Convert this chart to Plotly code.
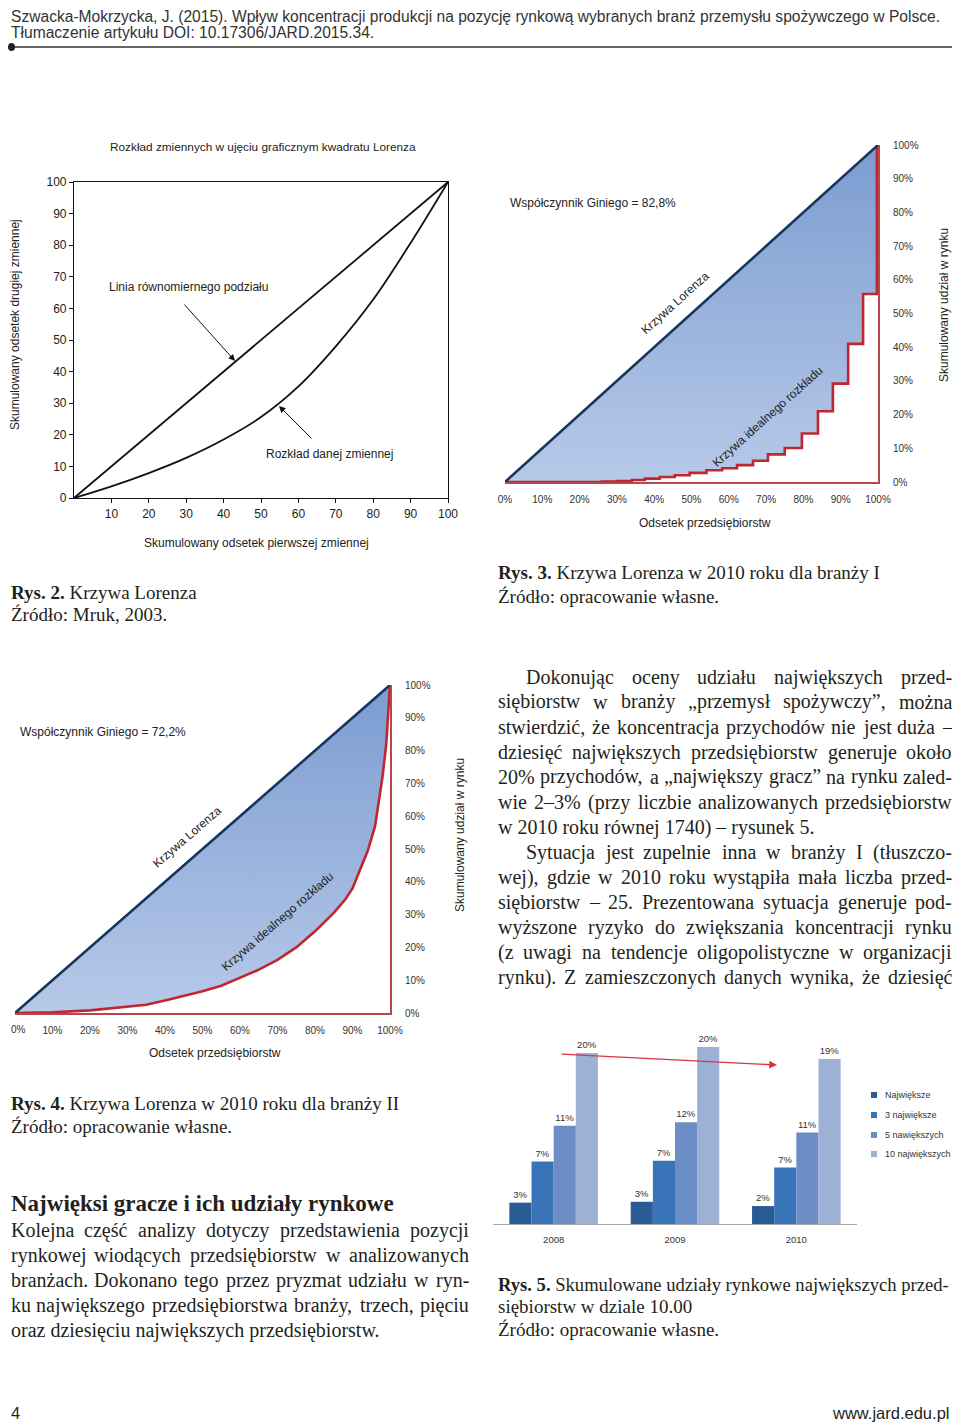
import plotly.graph_objects as go

W, H = 960, 1427
OFF = 8  # the page body margin offsets the figure by 8 px; positions below are page pixels
XMAX = 951  # right limit of the visible page area
def fx(p): return (p - OFF) / W
def fy(p): return 1 - (p - OFF) / H

SANS = "Liberation Sans, Arial, sans-serif"
SERIF = "Liberation Serif, Times New Roman, serif"
INK = "#231f20"
RED = "#c0262d"
RED_EDGE = "#b8464c"
NAVY = "#17365d"

# ---------------- data ----------------
# Rys. 2  (Lorenz square)
r2_xticks = [10, 20, 30, 40, 50, 60, 70, 80, 90, 100]
r2_yticks = [0, 10, 20, 30, 40, 50, 60, 70, 80, 90, 100]
r2_equal_x = [0, 100]
r2_equal_y = [0, 100]
r2_curve_x = [0, 10, 20, 30, 40, 50, 60, 70, 80, 90, 100]
r2_curve_y = [0, 3.7, 7.9, 12.7, 18.5, 25.6, 35.3, 48.0, 62.8, 80.7, 100]

# Rys. 3  (branch I, step curve)
pct_ticks = [0, 10, 20, 30, 40, 50, 60, 70, 80, 90, 100]
pct_labels = ["0%", "10%", "20%", "30%", "40%", "50%", "60%", "70%", "80%", "90%", "100%"]
r3_diag_x = [0, 100]
r3_diag_y = [0, 100]
r3_step_x = [0, 26, 30, 34, 37.5, 41.5, 45.5, 49.5, 54, 58.2, 62.2, 66.5, 70.5, 75, 79.6, 83.9, 87.9, 92, 96, 99.7, 100]
r3_step_y = [0, 0.1, 0.3, 0.6, 1.0, 1.5, 2.0, 2.7, 3.5, 4.1, 5.0, 6.3, 8.2, 10.1, 14.4, 21.0, 29.2, 41.0, 55.8, 100, 100]

# Rys. 4  (branch II, smooth curve)
r4_diag_x = [0, 100]
r4_diag_y = [0, 100]
r4_curve_x = [0, 10, 20, 30, 35, 40, 50, 55, 60, 65, 70, 75, 80, 85, 88, 90, 92, 94, 96, 97, 98, 99, 100]
r4_curve_y = [0, 0.2, 0.8, 1.8, 2.5, 3.8, 6.6, 8.3, 10.7, 13.2, 16.2, 20.0, 24.9, 30.5, 34.5, 38.0, 43.7, 49.2, 56.9, 64.0, 72.0, 82.0, 100]

# Rys. 5  (market shares)
years = ["2008", "2009", "2010"]
series_names = ["Największe", "3 największe", "5 nawiększych", "10 największych"]
share_top1 = [2.5, 2.6, 2.1]
share_top3 = [7.3, 7.4, 6.6]
share_top5 = [11.5, 11.9, 10.7]
share_top10 = [20.0, 20.7, 19.3]
label_top1 = ["3%", "3%", "2%"]
label_top3 = ["7%", "7%", "7%"]
label_top5 = ["11%", "12%", "11%"]
label_top10 = ["20%", "20%", "19%"]
series_colors = ["#2a5b94", "#3a74b8", "#6b8ec6", "#9db1d6"]

# ---------------- text ----------------
para_right = [
    ("Dokonując oceny udziału największych przed-", True, True),
    ("siębiorstw w branży „przemysł spożywczy”, można", False, True),
    ("stwierdzić, że koncentracja przychodów nie jest duża –", False, True),
    ("dziesięć największych przedsiębiorstw generuje około", False, True),
    ("20% przychodów, a „największy gracz” na rynku zaled-", False, True),
    ("wie 2–3% (przy liczbie analizowanych przedsiębiorstw", False, True),
    ("w 2010 roku równej 1740) – rysunek 5.", False, False),
    ("Sytuacja jest zupelnie inna w branży I (tłuszczo-", True, True),
    ("wej), gdzie w 2010 roku wystąpiła mała liczba przed-", False, True),
    ("siębiorstw – 25. Prezentowana sytuacja generuje pod-", False, True),
    ("wyższone ryzyko do zwiększania koncentracji rynku", False, True),
    ("(z uwagi na tendencje oligopolistyczne w organizacji", False, True),
    ("rynku). Z zamieszczonych danych wynika, że dziesięć", False, True),
]
para_left = [
    ("Kolejna część analizy dotyczy przedstawienia pozycji", True),
    ("rynkowej wiodących przedsiębiorstw w analizowanych", True),
    ("branżach. Dokonano tego przez pryzmat udziału w ryn-", True),
    ("ku największego przedsiębiorstwa branży, trzech, pięciu", True),
    ("oraz dziesięciu największych przedsiębiorstw.", False),
]

# Times New Roman advance widths (1/1000 em)
TW = {' ': 250, ',': 250, '.': 250, '-': 333, '–': 500, '(': 333, ')': 333, '%': 833,
      '„': 444, '”': 444, ':': 278, ';': 278,
      'A': 722, 'B': 667, 'C': 667, 'D': 722, 'E': 611, 'F': 556, 'G': 722, 'H': 722,
      'I': 333, 'J': 389, 'K': 722, 'L': 611, 'M': 889, 'N': 722, 'O': 722, 'P': 556,
      'R': 667, 'S': 556, 'T': 611, 'U': 722, 'W': 944, 'Z': 611, 'Ź': 611,
      'a': 444, 'b': 500, 'c': 444, 'd': 500, 'e': 444, 'f': 333, 'g': 500, 'h': 500,
      'i': 278, 'j': 278, 'k': 500, 'l': 278, 'm': 778, 'n': 500, 'o': 500, 'p': 500,
      'q': 500, 'r': 333, 's': 389, 't': 278, 'u': 500, 'v': 500, 'w': 722, 'x': 500,
      'y': 500, 'z': 444, 'ł': 278, 'ą': 444, 'ę': 444, 'ć': 444, 'ń': 500, 'ó': 500,
      'ś': 389, 'ź': 444, 'ż': 444}

def tw(s, size):
    return sum(TW.get(ch, 500) for ch in s) / 1000.0 * size

annotations = []

def ann(text, x, y, size, family=SANS, color=INK, xanchor="left", angle=0, yanchor="middle"):
    if xanchor == "left":
        x = max(x, OFF + 1)
    annotations.append(dict(text=text, x=fx(x), y=fy(y), xref="paper", yref="paper",
                            showarrow=False, xanchor=xanchor, yanchor=yanchor,
                            textangle=angle, font=dict(family=family, size=size, color=color)))

def justified(line, x0, x1, y, size, justify):
    words = line.split(" ")
    if not justify or len(words) < 2:
        ann(line, x0 - 1, y, size, SERIF)
        return
    total = sum(tw(w, size) for w in words)
    gap = (x1 - x0 - total) / (len(words) - 1)
    gap = max(gap, tw(" ", size))
    x = x0
    for w in words:
        ann(w, x - 1, y, size, SERIF)
        x += tw(w, size) + gap

fig = go.Figure()

# ---- Rys. 2 ----
fig.add_trace(go.Scatter(x=r2_equal_x, y=r2_equal_y, mode="lines", line=dict(color="#111", width=1.8),
                         xaxis="x", yaxis="y", hoverinfo="skip", showlegend=False))
fig.add_trace(go.Scatter(x=r2_curve_x, y=r2_curve_y, mode="lines",
                         line=dict(color="#111", width=1.8, shape="spline", smoothing=1.0),
                         xaxis="x", yaxis="y", hoverinfo="skip", showlegend=False))

FILL = [[0, "#b7c9e8"], [1, "#7b9cd1"]]

def steps(xs, ys):
    ox, oy = [xs[0]], [ys[0]]
    for i in range(1, len(xs)):
        ox += [xs[i], xs[i]]
        oy += [ys[i - 1], ys[i]]
    return ox, oy

# ---- Rys. 3 ----
sx, sy = steps(r3_step_x, r3_step_y)
fig.add_trace(go.Scatter(x=r3_diag_x + sx[::-1], y=r3_diag_y + sy[::-1], fill="toself", mode="none",
                         fillgradient=dict(type="vertical", colorscale=FILL),
                         xaxis="x2", yaxis="y2", hoverinfo="skip", showlegend=False))
fig.add_trace(go.Scatter(x=r3_step_x, y=r3_step_y, mode="lines", line=dict(color=RED, width=2.6, shape="hv"),
                         xaxis="x2", yaxis="y2", hoverinfo="skip", showlegend=False, cliponaxis=False))
fig.add_trace(go.Scatter(x=r3_diag_x, y=r3_diag_y, mode="lines", line=dict(color=NAVY, width=2.6),
                         xaxis="x2", yaxis="y2", hoverinfo="skip", showlegend=False, cliponaxis=False))

# ---- Rys. 4 ----
fig.add_trace(go.Scatter(x=r4_diag_x + r4_curve_x[::-1], y=r4_diag_y + r4_curve_y[::-1], fill="toself", mode="none",
                         fillgradient=dict(type="vertical", colorscale=FILL),
                         xaxis="x3", yaxis="y3", hoverinfo="skip", showlegend=False))
fig.add_trace(go.Scatter(x=r4_curve_x, y=r4_curve_y, mode="lines", line=dict(color=RED, width=2.6),
                         xaxis="x3", yaxis="y3", hoverinfo="skip", showlegend=False, cliponaxis=False))
fig.add_trace(go.Scatter(x=r4_diag_x, y=r4_diag_y, mode="lines", line=dict(color=NAVY, width=2.6),
                         xaxis="x3", yaxis="y3", hoverinfo="skip", showlegend=False, cliponaxis=False))

# ---- Rys. 5 ----
for name, vals, labs, col in zip(series_names, [share_top1, share_top3, share_top5, share_top10],
                                 [label_top1, label_top3, label_top5, label_top10], series_colors):
    fig.add_trace(go.Bar(x=years, y=vals, name=name, marker=dict(color=col, line=dict(width=0)),
                         text=labs, textposition="outside", textfont=dict(family=SANS, size=9.5, color="#333"),
                         cliponaxis=False, xaxis="x4", yaxis="y4", showlegend=False, hoverinfo="skip"))

# ---------------- annotations ----------------
# header / footer
ann("Szwacka-Mokrzycka, J. (2015). Wpływ koncentracji produkcji na pozycję rynkową wybranych branż przemysłu spożywczego w Polsce.",
    9, 16, 15.6, SANS, "#333")
ann("Tłumaczenie artykułu DOI: 10.17306/JARD.2015.34.", 9, 32, 15.6, SANS, "#333")
ann("4", 9, 1413, 16.5, SANS, INK)
ann("www.jard.edu.pl", XMAX, 1413, 16.5, SANS, INK, xanchor="right")

# Rys. 2 texts
ann("Rozkład zmiennych w ujęciu graficznym kwadratu Lorenza", 263, 147, 11.8, SANS, "#222", xanchor="center")
ann("Skumulowany odsetek drugiej zmiennej", 15, 325, 12, SANS, "#222", xanchor="center", angle=-90)
ann("Skumulowany odsetek pierwszej zmiennej", 256, 543, 12, SANS, "#222", xanchor="center")
ann("Linia równomiernego podziału", 107, 287, 12, SANS, "#222")
ann("Rozkład danej zmiennej", 264, 454, 12, SANS, "#222")
annotations.append(dict(x=fx(235), y=fy(361), xref="paper", yref="paper", text="", showarrow=True,
                        ax=-52, ay=-58, arrowhead=2, arrowsize=1.3, arrowwidth=1, arrowcolor="#111"))
annotations.append(dict(x=fx(279), y=fy(406), xref="paper", yref="paper", text="", showarrow=True,
                        ax=34, ay=34, arrowhead=2, arrowsize=1.3, arrowwidth=1, arrowcolor="#111"))

# Rys. 3 texts
ann("Współczynnik Giniego = 82,8%", 508, 203, 12, SANS, "#222")
ann("Krzywa Lorenza", 675, 303, 12, SANS, "#222", xanchor="center", angle=-42)
ann("Krzywa idealnego rozkładu", 767, 417, 12, SANS, "#222", xanchor="center", angle=-42)
ann("Odsetek przedsiębiorstw", 705, 523, 12, SANS, "#222", xanchor="center")
ann("Skumulowany udział w rynku", 944, 305, 12, SANS, "#222", xanchor="center", angle=-90)

# Rys. 4 texts
ann("Współczynnik Giniego = 72,2%", 18, 732, 12, SANS, "#222")
ann("Krzywa Lorenza", 187, 837, 12, SANS, "#222", xanchor="center", angle=-41)
ann("Krzywa idealnego rozkładu", 277, 922, 12, SANS, "#222", xanchor="center", angle=-41)
ann("Odsetek przedsiębiorstw", 215, 1053, 12, SANS, "#222", xanchor="center")
ann("Skumulowany udział w rynku", 460, 835, 12, SANS, "#222", xanchor="center", angle=-90)
# first x tick label of Rys. 4 sits at the page edge, drawn as text so that it is not dropped
ann(pct_labels[0], 9, 1029, 10, SANS, "#333")

# Rys. 5 legend + arrow
legend_rows = [1095, 1115, 1135, 1154]
shapes = []
for name, col, yy in zip(series_names, series_colors, legend_rows):
    shapes.append(dict(type="rect", xref="paper", yref="paper", x0=fx(871), x1=fx(877),
                       y0=fy(yy + 3), y1=fy(yy - 3), fillcolor=col, line=dict(width=0)))
    ann(name, 883, yy, 9, SANS, "#333")
annotations.append(dict(x=fx(777), y=fy(1065), xref="paper", yref="paper", text="", showarrow=True,
                        ax=-217, ay=-11, arrowhead=2, arrowsize=1.2, arrowwidth=1.3, arrowcolor="#d9363e"))

# captions
ann("<b>Rys. 2.</b> Krzywa Lorenza", 0, 592, 19, SERIF)
ann("Źródło: Mruk, 2003.", 0, 615, 19, SERIF)
ann("<b>Rys. 3.</b> Krzywa Lorenza w 2010 roku dla branży I", 496, 573, 19, SERIF)
ann("Źródło: opracowanie własne.", 496, 596, 19, SERIF)
ann("<b>Rys. 4.</b> Krzywa Lorenza w 2010 roku dla branży II", 5, 1103, 19, SERIF)
ann("Źródło: opracowanie własne.", 5, 1126, 19, SERIF)
ann("<b>Rys. 5.</b> Skumulowane udziały rynkowe największych przed-", 496, 1284, 18.6, SERIF)
ann("siębiorstw w dziale 10.00", 496, 1306, 19, SERIF)
ann("Źródło: opracowanie własne.", 496, 1329, 19, SERIF)

# body text
for i, (line, indent, just) in enumerate(para_right):
    justified(line, 525 if indent else 497, XMAX, 677 + 25 * i, 20, just)
ann("<b>Najwięksi gracze i ich udziały rynkowe</b>", 6, 1203, 23, SERIF)
for i, (line, just) in enumerate(para_left):
    justified(line, 9, 468, 1230 + 25 * i, 20, just)

# header rule
shapes.append(dict(type="line", xref="paper", yref="paper", x0=fx(9), x1=fx(960), y0=fy(47), y1=fy(47),
                   line=dict(color="#333", width=1.5)))
shapes.append(dict(type="circle", xref="paper", yref="paper", x0=fx(8), x1=fx(15), y0=fy(51), y1=fy(43),
                   fillcolor="#222", line=dict(width=0)))

tick_narrow = dict(family=SANS, size=10, color="#333")
common = dict(automargin=False, showgrid=False, zeroline=False)
fig.update_layout(
    template="none",
    width=W, height=H, margin=dict(l=0, r=0, t=0, b=0, pad=0, autoexpand=False),
    paper_bgcolor="white", plot_bgcolor="rgba(0,0,0,0)",
    barmode="group", bargap=0.27, bargroupgap=0,
    showlegend=False,
    xaxis=dict(domain=[fx(74), fx(448)], range=[0, 100], anchor="y", showline=True, mirror=True,
               linecolor="#111", linewidth=1.2, ticks="outside", ticklen=4, tickcolor="#111",
               tickvals=r2_xticks, tickfont=dict(family=SANS, size=12, color="#222"), **common),
    yaxis=dict(domain=[fy(498), fy(182)], range=[0, 100], anchor="x", showline=True, mirror=True,
               linecolor="#111", linewidth=1.2, ticks="outside", ticklen=4, tickcolor="#111",
               tickvals=r2_yticks, tickfont=dict(family=SANS, size=12, color="#222"), **common),
    xaxis2=dict(domain=[fx(505), fx(878)], range=[0, 100], anchor="y2", showline=True, linecolor=RED_EDGE,
                linewidth=2, ticks="", tickvals=pct_ticks, ticktext=pct_labels, ticklabelstandoff=7,
                tickfont=tick_narrow, **common),
    yaxis2=dict(domain=[fy(482), fy(145)], range=[0, 100], anchor="x2", side="right", showline=True,
                linecolor=RED_EDGE, linewidth=2, ticks="", tickvals=pct_ticks, ticktext=pct_labels,
                ticklabelstandoff=11, tickfont=tick_narrow, **common),
    xaxis3=dict(domain=[fx(15), fx(390)], range=[0, 100], anchor="y3", showline=True, linecolor=RED_EDGE,
                linewidth=2, ticks="", tickvals=pct_ticks[1:], ticktext=pct_labels[1:], ticklabelstandoff=7,
                tickfont=tick_narrow, **common),
    yaxis3=dict(domain=[fy(1013), fy(685)], range=[0, 100], anchor="x3", side="right", showline=True,
                linecolor=RED_EDGE, linewidth=2, ticks="", tickvals=pct_ticks, ticktext=pct_labels,
                ticklabelstandoff=11, tickfont=tick_narrow, **common),
    xaxis4=dict(domain=[fx(493), fx(857)], anchor="y4", type="category", categoryorder="array",
                categoryarray=years, showline=True, linecolor="#a6a6a6", linewidth=1, ticks="",
                ticklabelstandoff=7, tickfont=dict(family=SANS, size=9.5, color="#333"), **common),
    yaxis4=dict(domain=[fy(1224), fy(1036)], range=[0, 22], anchor="x4", visible=False, **common),
    annotations=annotations, shapes=shapes,
)

fig.write_html("out.html")
